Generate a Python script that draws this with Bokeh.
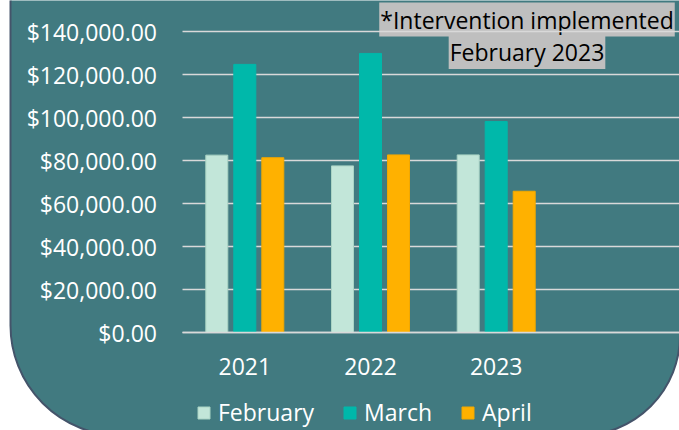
import numpy as np
from bokeh.plotting import figure
from bokeh.models import (Range1d, FixedTicker, NumeralTickFormatter, LinearAxis,
                          BoxAnnotation, Label, Grid)
from bokeh.embed import file_html
from bokeh.resources import INLINE

# ---------------- data ----------------
years = ["2021", "2022", "2023"]
series_names = ["February", "March", "April"]
february = [82500, 77500, 82600]
march = [124700, 129800, 98100]
april = [81300, 82600, 65700]
y_ticks = [0, 20000, 40000, 60000, 80000, 100000, 120000, 140000]
note_lines = ["*Intervention implemented", "February 2023"]

# ---------------- style ----------------
W, H = 679, 430
BG = "#417A80"
BORDER = "#44546A"
GRID_C = "#D9D9D9"
COLORS = ["#C2E6D9", "#00B8AA", "#FFB100"]
LINES = ["#A9D3C4", "#00B8AA", "#F2A800"]
NOTE_BG = "#BFBFBF"
FONT = "Open Sans"
FS = "23px"

# pixel geometry (canvas pixels)
CAT_PX = 125.7      # width of one category
X0_PX = 244.3       # centre of first category
Y0_PX = 332.0       # y pixel of value 0
PX_PER_Y = 43.0 / 20000.0


def xd(px):
    return (px - X0_PX) / CAT_PX


def yd(py):
    return (Y0_PX - py) / PX_PER_Y


p = figure(width=W, height=H, output_backend="svg", toolbar_location=None,
           x_range=Range1d(xd(0), xd(W)), y_range=Range1d(yd(H), yd(0)),
           x_axis_type=None, y_axis_type=None, min_border=0)
p.styles = {"position": "absolute", "left": "0px", "top": "0px"}
p.outline_line_color = None
p.background_fill_color = "white"
p.border_fill_color = "white"

# rounded panel behind the chart
shape = BoxAnnotation(left=xd(10), right=xd(679.5), top=yd(-20), bottom=yd(435),
                      fill_color=BG, fill_alpha=1.0, line_color=BORDER, line_alpha=1.0,
                      line_width=2, level="image",
                      border_radius=dict(top_left=0, top_right=0,
                                         bottom_right=100, bottom_left=110))
p.add_layout(shape)

# note labels
note_y = [19, 51.5]
for txt, py in zip(note_lines, note_y):
    p.add_layout(Label(x=xd(526.5), y=yd(py), text=txt, text_align="center",
                       text_baseline="middle", text_font=FONT, text_font_size=FS,
                       text_color="black", background_fill_color=NOTE_BG,
                       background_fill_alpha=1.0, padding=1, level="image"))

# grid
grid = Grid(dimension=1, ticker=FixedTicker(ticks=y_ticks),
            cross_bounds=(xd(181.5), xd(W)),
            grid_line_color=GRID_C, grid_line_width=1.5)
p.add_layout(grid)

# bars
idx = np.arange(len(years))
BAR_W = 22.0 / CAT_PX
STEP = 28.0 / CAT_PX
for k, (name, vals) in enumerate(zip(series_names, [february, march, april])):
    p.vbar(x=idx + (k - 1) * STEP, top=vals, bottom=0, width=BAR_W,
           fill_color=COLORS[k], line_color=LINES[k], line_width=1,
           legend_label=name)

# axes
yaxis = LinearAxis(fixed_location=xd(181.5), ticker=FixedTicker(ticks=y_ticks),
                   formatter=NumeralTickFormatter(format="$0,0.00"),
                   axis_line_color=None, major_tick_line_color=None,
                   minor_tick_line_color=None, major_tick_in=0, major_tick_out=0,
                   major_label_standoff=25, major_label_text_color="white",
                   major_label_text_font=FONT, major_label_text_font_size=FS)
p.add_layout(yaxis, "left")

xaxis = LinearAxis(fixed_location=0, ticker=FixedTicker(ticks=[int(i) for i in idx]),
                   major_label_overrides={int(i): y for i, y in zip(idx, years)},
                   bounds=(xd(181.5), xd(W)),
                   axis_line_color=GRID_C, axis_line_width=1.5,
                   major_tick_line_color=None, minor_tick_line_color=None,
                   major_tick_in=0, major_tick_out=0, major_label_standoff=25,
                   major_label_text_color="white", major_label_text_font=FONT,
                   major_label_text_font_size=FS)
p.add_layout(xaxis, "below")

# legend
lg = p.legend[0]
lg.location = (196, 2)
lg.orientation = "horizontal"
lg.glyph_width = 15
lg.glyph_height = 15
lg.label_standoff = 7
lg.spacing = 28
lg.padding = 0
lg.margin = 0
lg.border_line_color = None
lg.background_fill_alpha = 0
lg.label_text_color = "white"
lg.label_text_font = FONT
lg.label_text_font_size = FS

open("out.html", "w").write(file_html(p, INLINE))
